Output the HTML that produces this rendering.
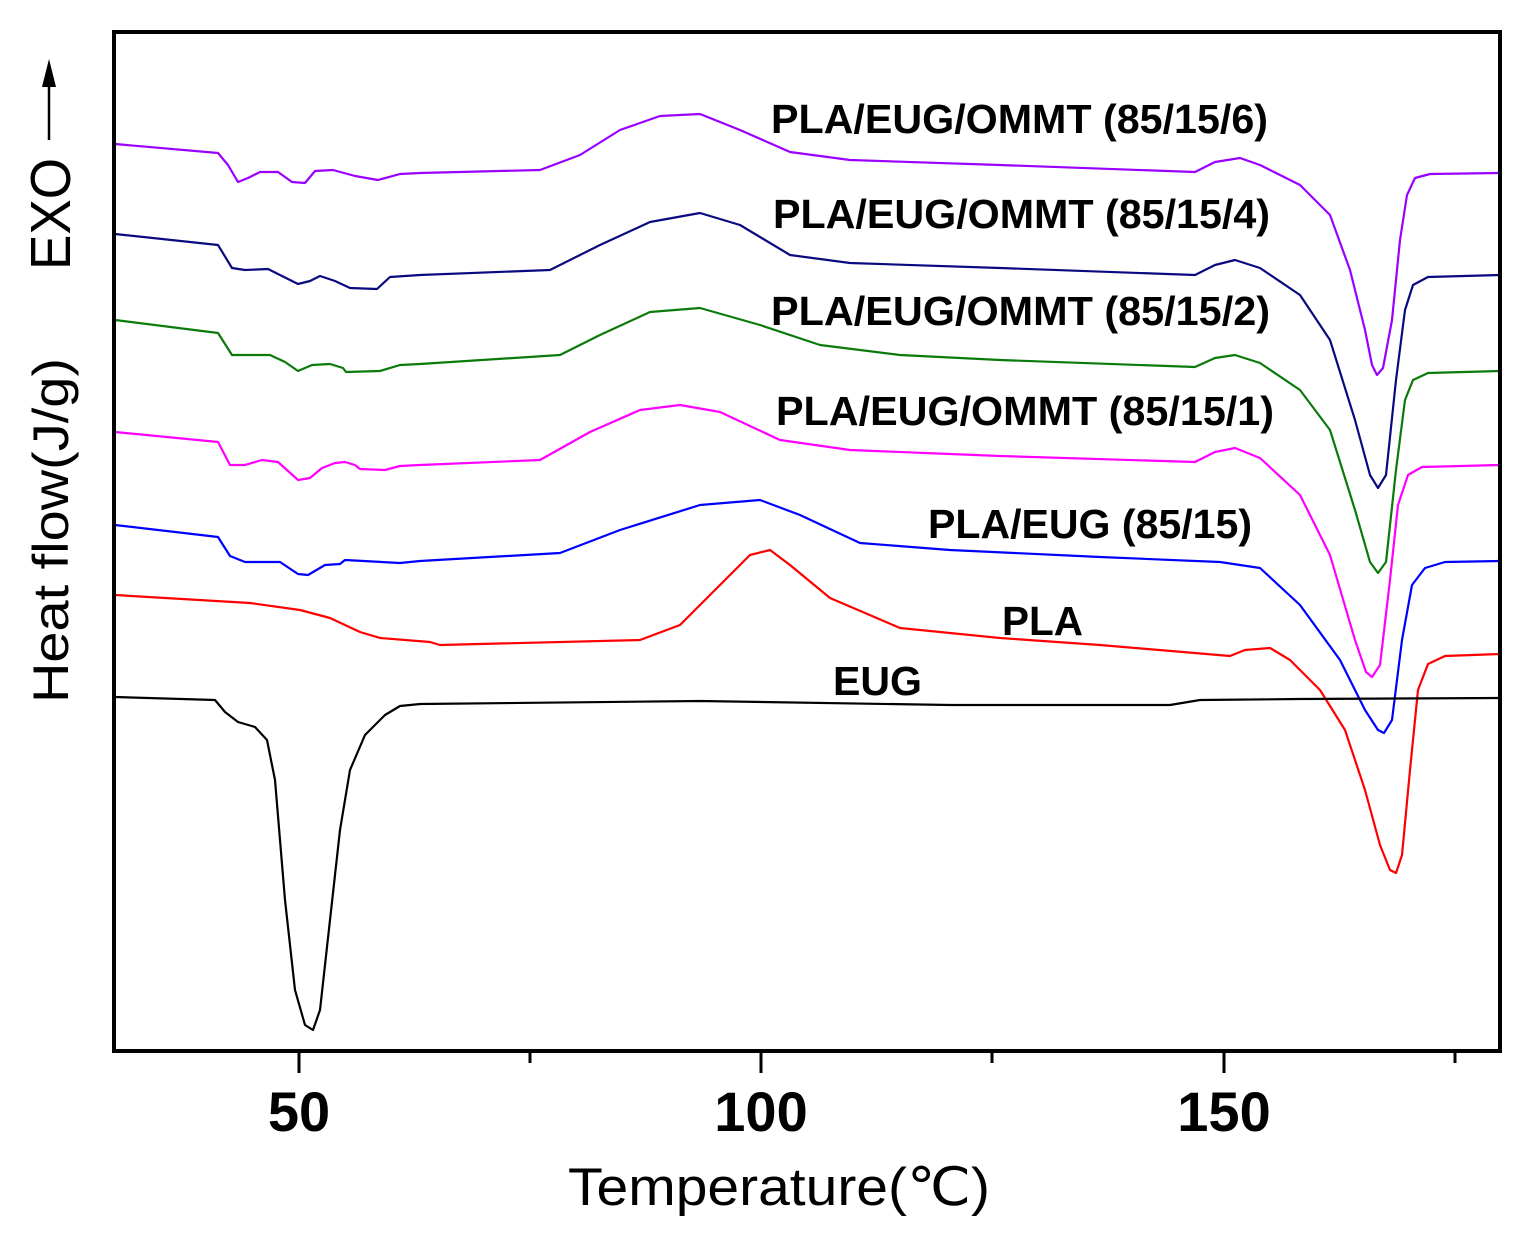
<!DOCTYPE html>
<html><head><meta charset="utf-8"><style>html,body{margin:0;padding:0;background:#fff}svg{display:block}</style></head>
<body>
<svg width="1536" height="1244" viewBox="0 0 1536 1244" xmlns="http://www.w3.org/2000/svg" font-family="'Liberation Sans', 'DejaVu Sans', sans-serif">
<rect width="1536" height="1244" fill="#fff"/>
<g fill="none" stroke-width="2.2" stroke-linejoin="round" stroke-linecap="round">
<path stroke="#9a00ff" d="M115,144 L218,153 L228,165 L238,182 L248,178 L260,172 L278,172 L292,182 L305,183 L315,171 L333,170 L355,176 L378,180 L400,174 L420,173 L540,170 L580,155 L620,130 L660,116 L700,114 L740,130 L790,152 L850,160 L1000,165 L1195,172 L1215,162 L1240,158 L1260,165 L1300,185 L1330,215 L1350,270 L1365,330 L1372,365 L1377,375 L1383,368 L1392,320 L1400,240 L1407,195 L1415,178 L1430,174 L1500,173"/>
<path stroke="#0a0a80" d="M115,234 L218,245 L232,268 L245,270 L268,269 L280,275 L298,284 L310,281 L320,276 L335,281 L350,288 L377,289 L390,277 L420,275 L550,270 L600,245 L650,222 L700,213 L740,225 L790,255 L850,263 L1000,268 L1195,275 L1215,265 L1235,260 L1260,268 L1300,295 L1330,340 L1355,420 L1370,475 L1378,488 L1386,475 L1396,380 L1405,310 L1413,285 L1428,277 L1500,275"/>
<path stroke="#0a7a0a" d="M115,320 L218,333 L232,355 L248,355 L270,355 L285,362 L298,371 L312,365 L330,364 L343,368 L346,372 L380,371 L400,365 L420,364 L560,355 L600,335 L650,312 L700,308 L760,325 L820,345 L900,355 L1000,360 L1195,367 L1215,358 L1235,355 L1260,363 L1300,390 L1330,430 L1355,510 L1370,562 L1378,573 L1386,562 L1396,470 L1405,400 L1413,380 L1428,373 L1500,371"/>
<path stroke="#ff00ff" d="M115,432 L218,442 L230,465 L245,465 L262,460 L278,462 L298,480 L310,478 L322,468 L335,463 L345,462 L355,465 L360,469 L385,470 L400,466 L420,465 L540,460 L590,432 L640,410 L680,405 L720,412 L780,440 L850,450 L1000,456 L1195,462 L1215,452 L1235,448 L1260,458 L1300,495 L1330,555 L1355,640 L1366,672 L1372,677 L1380,665 L1390,580 L1398,505 L1408,475 L1422,467 L1500,465"/>
<path stroke="#0000ff" d="M115,525 L218,537 L230,556 L245,562 L280,562 L298,574 L308,575 L325,565 L340,564 L345,560 L400,563 L420,561 L560,553 L620,530 L700,505 L760,500 L800,515 L860,543 L950,550 L1100,557 L1220,562 L1260,568 L1300,605 L1340,660 L1365,710 L1378,730 L1384,733 L1392,720 L1402,640 L1412,585 L1425,568 L1445,562 L1500,561"/>
<path stroke="#ff0000" d="M115,595 L250,603 L300,610 L330,618 L360,632 L380,638 L430,642 L440,645 L640,640 L680,625 L720,585 L750,555 L770,550 L790,565 L830,598 L900,628 L1000,638 L1100,645 L1230,656 L1245,650 L1270,648 L1290,660 L1320,690 L1345,730 L1365,790 L1380,845 L1390,870 L1396,873 L1402,855 L1410,770 L1418,690 L1428,664 L1445,656 L1500,654"/>
<path stroke="#000" d="M115,697 L215,700 L225,712 L238,722 L255,727 L267,740 L275,780 L285,900 L295,990 L305,1025 L313,1030 L320,1010 L330,920 L340,830 L350,770 L365,735 L385,715 L400,706 L420,704 L700,701 L950,705 L1170,705 L1200,700 L1300,699 L1500,698"/>
</g>
<rect x="114" y="32" width="1386" height="1019" fill="none" stroke="#000" stroke-width="4"/>
<g stroke="#000" stroke-width="3">
<line x1="299" y1="1051" x2="299" y2="1073"/>
<line x1="761" y1="1051" x2="761" y2="1073"/>
<line x1="1224" y1="1051" x2="1224" y2="1073"/>
<line x1="530" y1="1051" x2="530" y2="1063"/>
<line x1="992" y1="1051" x2="992" y2="1063"/>
<line x1="1455" y1="1051" x2="1455" y2="1063"/>
</g>
<g font-weight="bold" font-size="56" text-anchor="middle" fill="#000">
<text x="299" y="1131">50</text>
<text x="761" y="1131">100</text>
<text x="1224" y="1131">150</text>
</g>
<text x="568" y="1205" font-size="53" textLength="422" lengthAdjust="spacingAndGlyphs">Temperature(℃)</text>
<text transform="translate(68,703) rotate(-90)" font-size="50" textLength="345" lengthAdjust="spacingAndGlyphs">Heat flow(J/g)</text>
<text transform="translate(70,270) rotate(-90)" font-size="57" textLength="112" lengthAdjust="spacingAndGlyphs">EXO</text>
<line x1="49" y1="140" x2="49" y2="80" stroke="#000" stroke-width="2.5"/>
<polygon points="49,59 42,87 56,87" fill="#000"/>
<g font-weight="bold" font-size="41" fill="#000">
<text x="771" y="133" textLength="497" lengthAdjust="spacingAndGlyphs">PLA/EUG/OMMT (85/15/6)</text>
<text x="773" y="228" textLength="497" lengthAdjust="spacingAndGlyphs">PLA/EUG/OMMT (85/15/4)</text>
<text x="771" y="325" textLength="499" lengthAdjust="spacingAndGlyphs">PLA/EUG/OMMT (85/15/2)</text>
<text x="776" y="425" textLength="498" lengthAdjust="spacingAndGlyphs">PLA/EUG/OMMT (85/15/1)</text>
<text x="928" y="538" textLength="324" lengthAdjust="spacingAndGlyphs">PLA/EUG (85/15)</text>
<text x="1002" y="635" textLength="81" lengthAdjust="spacingAndGlyphs">PLA</text>
<text x="833" y="695" textLength="89" lengthAdjust="spacingAndGlyphs">EUG</text>
</g>
</svg>
</body></html>
